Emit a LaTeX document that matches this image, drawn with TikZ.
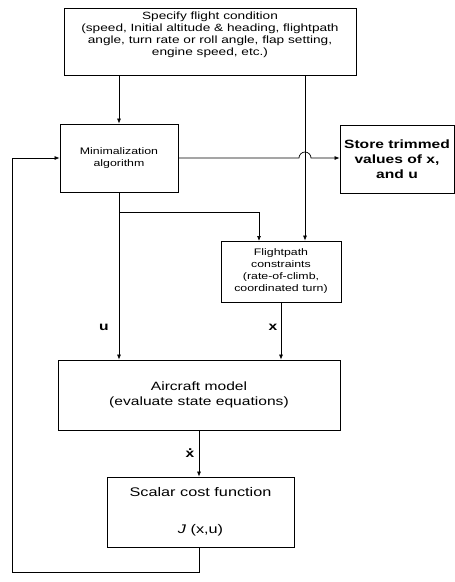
\documentclass[tikz,border=0pt]{standalone}
\usepackage{fontspec}
\setmainfont{Liberation Sans}[FakeStretch=1.3]
\usetikzlibrary{arrows.meta}
\begin{document}
\begin{tikzpicture}[x=1pt,y=-1pt,
  box/.style={draw,line width=0.8pt,inner sep=0pt,align=center},
  conn/.style={line width=0.7pt},
  arr/.style={conn,-{Latex[length=5pt,width=4pt]}},
  lbl/.style={font=\fontsize{12}{13}\selectfont\bfseries}]
\useasboundingbox (0,0) rectangle (455,582);
\node[box,minimum width=292pt,minimum height=67pt,font=\fontsize{10.5}{11.7}\selectfont] (top) at (210,41.5)
  {Specify flight condition\\(speed, Initial altitude \& heading, flightpath\\angle, turn rate or roll angle, flap setting,\\engine speed, etc.)\\[4pt]};
\node[box,minimum width=118pt,minimum height=68pt,font=\fontsize{9.5}{12.5}\selectfont] (min) at (119,158)
  {Minimalization\\algorithm};
\node[box,minimum width=114pt,minimum height=68pt,font=\fontsize{12}{15}\selectfont\bfseries] (store) at (397,159)
  {Store trimmed\\values of x,\\and u};
\node[box,minimum width=120pt,minimum height=61pt,font=\fontsize{9.5}{12}\selectfont] (fp) at (281,271.5)
  {Flightpath\\constraints\\(rate-of-climb,\\coordinated turn)};
\node[box,minimum width=282pt,minimum height=70pt,font=\fontsize{12}{15}\selectfont] (ac) at (199,395)
  {Aircraft model\\(evaluate state equations)};
\node[box,minimum width=187pt,minimum height=70pt,font=\fontsize{12.5}{15}\selectfont] (sc) at (200.5,512)
  {Scalar cost function\\[22pt]\textit{J} (x,u)};
% connectors
\draw[arr] (top.south -| min.north) -- (min.north);
\coordinate (tr) at (305,75);
\draw[arr] (tr) -- (tr |- fp.north);
\draw[arr] (min.east) -- (299,158) arc[start angle=180,end angle=0,radius=6pt] -- (store.west |- min.east);
\draw[arr] (min.south) -- (min.south |- ac.north);
\coordinate (br) at (119,212);
\draw[arr] (br) -| (259,241);
\draw[arr] (fp.south) -- (fp.south |- ac.north);
\draw[arr] (ac.south) -- (ac.south |- sc.north);
\coordinate (fb1) at (199,572);
\coordinate (fb2) at (12,572);
\draw[arr] (ac.south |- sc.south) -- (fb1) -- (fb2) |- (min.west);
% labels
\node[lbl] (lu) at (104,327) {u};
\node[lbl] (lx) at (273,327) {x};
\node[lbl] (lxd) at (190,453) {\makebox[0pt][l]{\hspace{0.2em}\raisebox{0.6em}{.}}x};
\end{tikzpicture}
\end{document}
